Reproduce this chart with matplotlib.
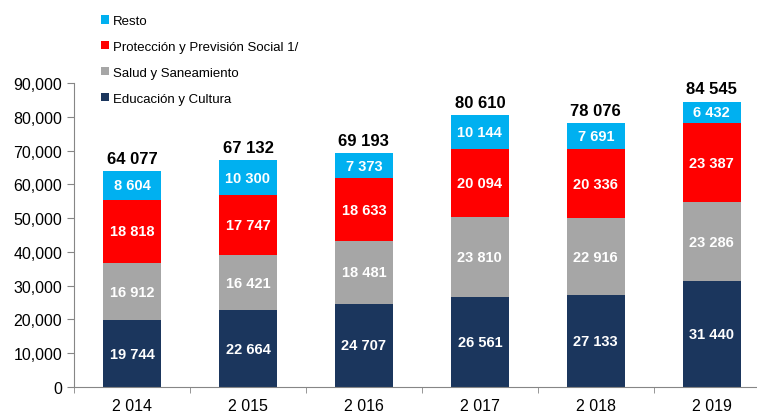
import matplotlib.pyplot as plt
import numpy as np

plt.rcParams['font.family'] = ['Liberation Sans', 'DejaVu Sans']

years = ['2 014', '2 015', '2 016', '2 017', '2 018', '2 019']
educacion = [19744, 22664, 24707, 26561, 27133, 31440]
salud = [16912, 16421, 18481, 23810, 22916, 23286]
proteccion = [18818, 17747, 18633, 20094, 20336, 23387]
resto = [8604, 10300, 7373, 10144, 7691, 6432]
totales = [64077, 67132, 69193, 80610, 78076, 84545]

series = [
    ('Educación y Cultura', educacion, '#1B365D'),
    ('Salud y Saneamiento', salud, '#A6A6A6'),
    ('Protección y Previsión Social 1/', proteccion, '#FF0000'),
    ('Resto', resto, '#00B0F0'),
]

def fmt(v):
    # space as thousands separator
    return '{:,}'.format(v).replace(',', ' ')

fig = plt.figure(figsize=(7.57, 4.14), dpi=100)
ax = fig.add_axes([0.0978, 0.0628, 0.919, 0.734])

x = np.arange(len(years))
bottom = np.zeros(len(years))
handles = []
for name, vals, col in series:
    b = ax.bar(x, vals, 0.5, bottom=bottom, color=col, label=name)
    handles.append(b)
    for xi, v, bt in zip(x, vals, bottom):
        ax.text(xi, bt + v / 2, fmt(v), ha='center', va='center',
                color='white', fontsize=10.5, fontweight='bold')
    bottom += np.array(vals)

for xi, t, top in zip(x, totales, bottom):
    ax.text(xi, top + 1500, fmt(t), ha='center', va='bottom',
            fontsize=12, fontweight='bold', color='black')

ax.set_xlim(-0.5, len(years) - 0.5)
ax.set_ylim(0, 90000)
ax.set_yticks(np.arange(0, 90001, 10000))
ax.set_yticklabels(['{:,}'.format(v) for v in range(0, 90001, 10000)], fontsize=11.5)
ax.set_xticks(x)
ax.set_xticklabels(years, fontsize=11.5)
ax.set_xticks(np.arange(-0.5, len(years), 1), minor=True)
ax.tick_params(axis='x', which='major', length=0, pad=8)
ax.tick_params(axis='x', which='minor', length=4, direction='out', color='#868686')
ax.tick_params(axis='y', length=5, color='#868686')

for s in ['top', 'right']:
    ax.spines[s].set_visible(False)
ax.spines['left'].set_color('#868686')
ax.spines['bottom'].set_color('#868686')

leg = fig.legend(handles[::-1], [s[0] for s in series][::-1], loc='upper left',
                 bbox_to_anchor=(0.118, 0.99), frameon=False, fontsize=9.5,
                 handlelength=0.6, handleheight=0.6, handletextpad=0.3,
                 labelspacing=1.05)

fig.savefig('out.png', dpi=100)
